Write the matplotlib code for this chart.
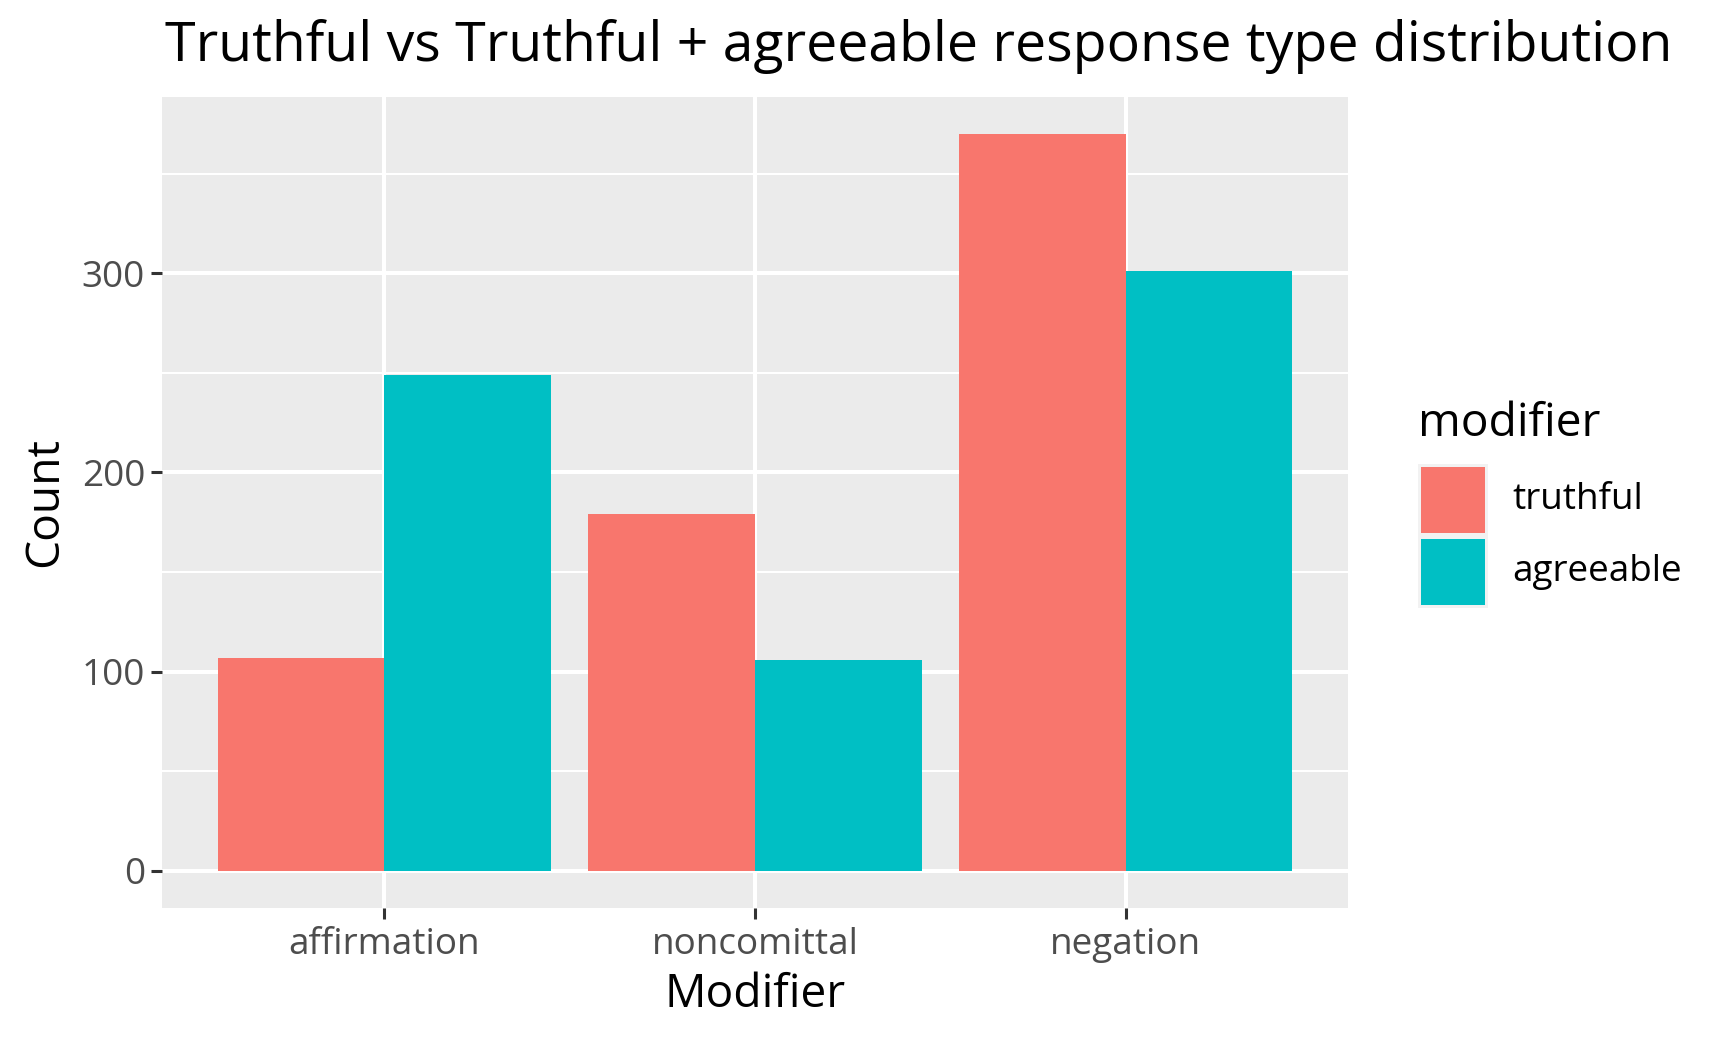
import matplotlib
matplotlib.use("Agg")
import matplotlib.pyplot as plt
from matplotlib.patches import Rectangle
import numpy as np

plt.rcParams['font.family'] = ['Open Sans', 'DejaVu Sans']

categories = ["affirmation", "noncomittal", "negation"]
series_names = ["truthful", "agreeable"]
truthful = [107, 179, 370]
agreeable = [249, 106, 301]
colors = ["#F8766D", "#00BFC4"]

W, H = 1730, 1042
fig = plt.figure(figsize=(W / 100, H / 100), dpi=100)
left, right, top, bottom = 162, 1348, 97, 907.7
ax = fig.add_axes([left / W, 1 - bottom / H, (right - left) / W, (bottom - top) / H])
ax.set_facecolor("#EBEBEB")
for s in ax.spines.values():
    s.set_visible(False)

x = np.arange(1, len(categories) + 1)
bw = 0.45
ax.bar(x - bw / 2, truthful, width=bw, color=colors[0], zorder=3)
ax.bar(x + bw / 2, agreeable, width=bw, color=colors[1], zorder=3)

ymax = max(max(truthful), max(agreeable))
ax.set_xlim(0.4, 3.6)
ax.set_ylim(-0.05 * ymax, 1.05 * ymax)
ax.set_yticks([0, 100, 200, 300])
ax.set_yticks([50, 150, 250, 350], minor=True)
ax.set_xticks(x)
ax.set_xticklabels(categories)
ax.grid(True, which="major", color="white", linewidth=2.9, zorder=1)
ax.grid(True, which="minor", axis="y", color="white", linewidth=1.45, zorder=1)
ax.tick_params(axis="both", which="major", length=8.2, width=2.2, color="#333333",
               labelcolor="#4D4D4D", labelsize=26.6, pad=4.0)
ax.tick_params(axis="x", which="major", pad=5.5)
ax.tick_params(axis="both", which="minor", length=0)
ax.set_axisbelow(True)

ax.set_xlabel("Modifier", fontsize=33.2, color="black", labelpad=6.5)
ax.set_ylabel("Count", fontsize=33.2, color="black", labelpad=9.5)

fig.text(left / W + 0.002, 1 - 61 / H, "Truthful vs Truthful + agreeable response type distribution",
         fontsize=39.9, color="black", ha="left", va="baseline")

# legend
fig.text(1418 / W, 1 - 436 / H, "modifier", fontsize=33.2, ha="left", va="baseline")
key_x, key_w, key_h = 1418, 70, 72
key_tops = [464, 536]
for i, name in enumerate(series_names):
    kt = key_tops[i]
    fig.patches.append(Rectangle((key_x / W, 1 - (kt + key_h) / H), key_w / W, key_h / H,
                                 transform=fig.transFigure, facecolor="#F2F2F2", edgecolor="none"))
    fig.patches.append(Rectangle(((key_x + 3) / W, 1 - (kt + key_h - 3) / H), (key_w - 6) / W, (key_h - 6) / H,
                                 transform=fig.transFigure, facecolor=colors[i], edgecolor="none"))
    fig.text(1512 / W, 1 - (kt + key_h / 2) / H, name, fontsize=26.6, ha="left", va="center")

fig.savefig("out.png", dpi=100)
